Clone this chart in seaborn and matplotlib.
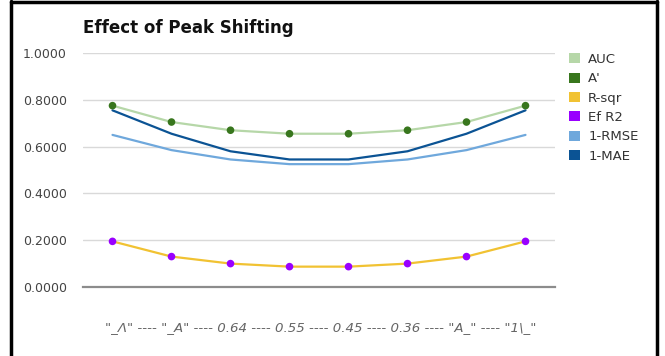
import matplotlib
matplotlib.use("Agg")
import matplotlib.pyplot as plt
from matplotlib.patches import Patch
from matplotlib.lines import Line2D
import seaborn as sns
import pandas as pd

# Peak positions along the shift sweep
positions = ['"_Λ"', '"_A"', '0.64', '0.55', '0.45', '0.36', '"A_"', '"1\\_"']

auc = [0.775, 0.705, 0.670, 0.655, 0.655, 0.670, 0.705, 0.775]
a_prime = [0.775, 0.705, 0.670, 0.655, 0.655, 0.670, 0.705, 0.775]
r_sqr = [0.195, 0.130, 0.100, 0.087, 0.087, 0.100, 0.130, 0.195]
ef_r2 = [0.195, 0.130, 0.100, 0.087, 0.087, 0.100, 0.130, 0.195]
one_rmse = [0.650, 0.585, 0.545, 0.525, 0.525, 0.545, 0.585, 0.650]
one_mae = [0.755, 0.655, 0.580, 0.545, 0.545, 0.580, 0.655, 0.755]

series_names = ["AUC", "A'", "R-sqr", "Ef R2", "1-RMSE", "1-MAE"]
series_colors = ["#b6d7a8", "#38761d", "#f1c232", "#9900ff", "#6fa8dc", "#0b5394"]

sns.set_theme(style="white")
plt.rcParams["font.family"] = ["DejaVu Sans"]

fig = plt.figure(figsize=(6.65, 3.56), dpi=100)
ax = fig.add_axes([83 / 665, 1 - 287 / 356, 472 / 665, 234 / 356])

idx = list(range(len(positions)))
df = pd.DataFrame({"pos": idx, "AUC": auc, "A'": a_prime, "R-sqr": r_sqr,
                   "Ef R2": ef_r2, "1-RMSE": one_rmse, "1-MAE": one_mae})

# Continuous lines
for name, color in [("AUC", series_colors[0]), ("R-sqr", series_colors[2]),
                    ("1-RMSE", series_colors[4]), ("1-MAE", series_colors[5])]:
    sns.lineplot(data=df, x="pos", y=name, ax=ax, color=color, lw=1.6, zorder=3)

# Point-only series
for name, color in [("A'", series_colors[1]), ("Ef R2", series_colors[3])]:
    sns.scatterplot(data=df, x="pos", y=name, ax=ax, color=color, s=30,
                    edgecolor="none", zorder=4)

ax.set_xlim(-0.5, len(positions) - 0.5)
ax.set_ylim(0, 1.0)
ax.set_yticks([0.0, 0.2, 0.4, 0.6, 0.8, 1.0])
ax.set_yticklabels([f"{v:.4f}" for v in [0.0, 0.2, 0.4, 0.6, 0.8, 1.0]])
ax.set_xticks([])
ax.set_xlabel("")
ax.set_ylabel("")
ax.tick_params(axis="y", length=0, pad=11.5, labelsize=9, labelcolor="#444444")
ax.yaxis.grid(True, color="#d9d9d9", lw=1.0)
ax.set_axisbelow(True)
for s in ["top", "right", "left"]:
    ax.spines[s].set_visible(False)
ax.spines["bottom"].set_color("#8c8c8c")
ax.spines["bottom"].set_linewidth(1.6)

fig.text(83 / 665, 1 - 33 / 356, "Effect of Peak Shifting", fontsize=12,
         fontweight="bold", color="#111111", va="baseline", ha="left")

fig.text(321 / 665, 1 - 331 / 356, " ---- ".join(positions), fontsize=9.6,
         style="italic", color="#666666", ha="center", va="baseline")

handles = [Patch(facecolor=c, edgecolor="none") for c in series_colors]
fig.legend(handles, series_names, loc="upper left",
           bbox_to_anchor=(569 / 665, 1 - 53 / 356), frameon=False,
           fontsize=9.5, handlelength=0.8, handleheight=0.8,
           handletextpad=0.65, labelspacing=0.48, borderpad=0,
           borderaxespad=0, labelcolor="#333333")

# Outer frame (left, top, right edges)
frame_kw = dict(color="black", lw=2.5, transform=fig.transFigure, clip_on=False)
fig.add_artist(Line2D([11 / 665, 11 / 665], [0, 1 - 1 / 356], **frame_kw))
fig.add_artist(Line2D([11 / 665, 657 / 665], [1 - 2 / 356, 1 - 2 / 356], **frame_kw))
fig.add_artist(Line2D([657 / 665, 657 / 665], [0, 1 - 1 / 356], **frame_kw))

fig.savefig("out.png", dpi=100)
